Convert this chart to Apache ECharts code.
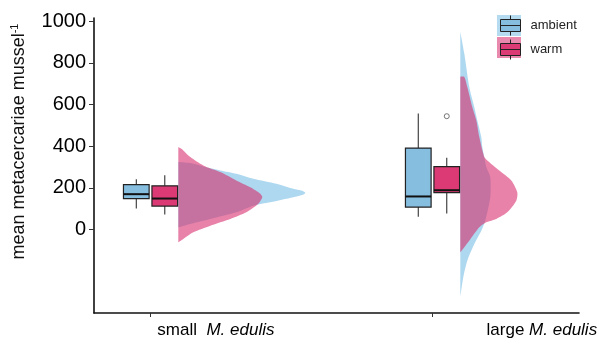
<!DOCTYPE html>
<html><head><meta charset="utf-8">
<script src="https://cdn.jsdelivr.net/npm/echarts@6/dist/echarts.min.js"></script>
<style>html,body{margin:0;padding:0;background:#fff}#c{width:612px;height:345px}</style>
</head><body><div id="c"></div>
<script>
// ---- data ----
const groupNames = ['small', 'large'];
const groupPos = [1, 2];
const treatments = ['ambient', 'warm'];
const yTickValues = [0, 200, 400, 600, 800, 1000];
const yAxisTitle = 'mean metacercariae mussel';
// box statistics per group: [min, Q1, median, Q3, max]
const ambientBox = [[101, 149, 170, 216, 242], [62, 108, 159, 391, 557]];
const warmBox = [[72, 113, 149, 210, 261], [77, 177, 189, 302, 345]];
// outliers: [group index, value]
const warmOutliers = [[1, 544]];
// half-violin density profiles: [value, relative density]
const smallAmbientDensity = [[324,0],[319,12],[303,25],[284,42],[268,58],[244,75],[220,98],[196,115],[186,124],[176,127],[166,124],[155,115],[131,92],[115,75],[83,58],[51,32],[27,12],[11,0]];
const largeAmbientDensity = [[949,0],[845,4],[684,9],[588,14],[524,17],[444,21],[396,22],[348,24],[300,26],[251,30],[155,30],[43,25],[-5,21],[-69,14],[-149,7],[-229,3],[-325,0]];
const smallWarmDensity = [[396,0],[388,3],[380,5],[348,12],[308,25],[276,42],[236,58],[203,72],[172,82],[155,84],[124,80],[83,68],[51,52],[19,32],[-13,15],[-45,5],[-61,0]];
const largeWarmDensity = [[733,0],[732,4],[684,7],[588,12],[524,16],[444,19],[348,24],[332,27],[284,39],[236,51],[179,57],[139,56],[83,47],[51,36],[35,26],[11,19],[-53,9],[-109,0]];

// ---- styling / layout ----
const AMB_OFF = -0.05, WARM_OFF = 0.051, VIOLIN_OFF = 0.099, BOX_HALF = 0.0455;
const DENSITY_SCALE = 1 / 282;
const boxColors = ['#86BEE0', '#DC3A74'];
const violinColors = ['rgba(120,190,228,0.6)', 'rgba(215,40,105,0.58)'];
const keyBg = ['rgba(120,190,228,0.55)', 'rgba(215,40,105,0.55)'];
const legendTextPad = [[4, 0, 0, 5], [8, 0, 0, 5]];
const FONT = 'Liberation Sans, Arial, sans-serif';

function boxRender(color) {
  return function (params, api) {
    const x = api.value(0);
    const pMin = api.coord([x, api.value(1)]);
    const pQ1 = api.coord([x, api.value(2)]);
    const pMed = api.coord([x, api.value(3)]);
    const pQ3 = api.coord([x, api.value(4)]);
    const pMax = api.coord([x, api.value(5)]);
    const hw = api.size([BOX_HALF, 0])[0];
    const cx = pMed[0];
    return {
      type: 'group', children: [
        { type: 'line', shape: { x1: cx, y1: pMax[1], x2: cx, y2: pQ3[1] }, style: { stroke: '#333', lineWidth: 1.1 } },
        { type: 'line', shape: { x1: cx, y1: pQ1[1], x2: cx, y2: pMin[1] }, style: { stroke: '#333', lineWidth: 1.1 } },
        { type: 'rect', shape: { x: cx - hw, y: pQ3[1], width: 2 * hw, height: pQ1[1] - pQ3[1] }, style: { fill: color, stroke: '#222', lineWidth: 1.2 } },
        { type: 'line', shape: { x1: cx - hw, y1: pMed[1], x2: cx + hw, y2: pMed[1] }, style: { stroke: '#111', lineWidth: 2 } }
      ]
    };
  };
}
function violinRender(profiles, color) {
  return function (params, api) {
    const xb = api.value(0);
    const prof = profiles[api.value(1)];
    const pts = prof.map(p => api.coord([xb + p[1] * DENSITY_SCALE, p[0]]));
    // open smoothed outline; the fill closes it straight along the baseline
    return { type: 'polyline', shape: { points: pts, smooth: 0.25 }, style: { fill: color, stroke: 'none' } };
  };
}
const boxData = (stats, off) => stats.map((s, i) => [groupPos[i] + off].concat(s));
const violinData = groupPos.map((g, i) => [g + VIOLIN_OFF, i]);
const GLYPH = 'path://M0,4L20,4L20,16L0,16Z M0,10L20,10 M10,0L10,4 M10,16L10,20';

const chart = echarts.init(document.getElementById('c'), null, { renderer: 'canvas' });
chart.setOption({
  animation: false,
  backgroundColor: '#fff',
  grid: { left: 94, top: 18, width: 485, height: 295 },
  xAxis: {
    type: 'value', min: 0.8, max: 2.52,
    splitLine: { show: false },
    axisLine: { show: true, onZero: false, lineStyle: { color: '#111', width: 1.6 } },
    axisTick: { show: true, customValues: groupPos, length: 4, lineStyle: { color: '#333' } },
    axisLabel: {
      customValues: groupPos, margin: 9, align: 'center', color: '#000', fontFamily: FONT, fontSize: 17,
      formatter: v => v === 1 ? '{s|' + groupNames[0] + '  }{i|M. edulis}' : '{l|' + groupNames[1] + ' }{i|M. edulis}',
      rich: {
        s: { padding: [0, 0, 0, 131], fontSize: 17, fontFamily: FONT, color: '#000' },
        l: { padding: [0, 0, 0, 219], fontSize: 17, fontFamily: FONT, color: '#000' },
        i: { fontStyle: 'italic', fontSize: 17, fontFamily: FONT, color: '#000' }
      }
    }
  },
  yAxis: {
    type: 'value', min: -400, max: 1015,
    splitLine: { show: false },
    axisLine: { show: true, onZero: false, lineStyle: { color: '#111', width: 1.6 } },
    axisTick: { show: true, customValues: yTickValues, length: 5, lineStyle: { color: '#333' } },
    axisLabel: { customValues: yTickValues, margin: 8, color: '#000', fontFamily: FONT, fontSize: 20, formatter: v => String(v) }
  },
  legend: {
    orient: 'vertical', left: 500, top: 15, padding: 0, itemWidth: 20, itemHeight: 20, itemGap: 3,
    selectedMode: false,
    textStyle: { fontSize: 13, color: '#222', fontFamily: FONT, padding: [0, 0, 0, 5] },
    data: treatments.map((t, i) => ({
      name: t, icon: GLYPH,
      itemStyle: { color: boxColors[i], borderColor: '#222', borderWidth: 1 },
      textStyle: { fontSize: 13, color: '#222', fontFamily: FONT, padding: legendTextPad[i] }
    }))
  },
  graphic: [
    { type: 'rect', left: 497, top: 15, shape: { width: 24, height: 21 }, style: { fill: keyBg[0] }, z: 0 },
    { type: 'rect', left: 497, top: 37, shape: { width: 24, height: 21 }, style: { fill: keyBg[1] }, z: 0 },
    {
      type: 'text', x: 19, y: 141.5, rotation: Math.PI / 2,
      style: {
        text: '{a|' + yAxisTitle + '}{s|-1}', align: 'center', verticalAlign: 'middle',
        rich: {
          a: { fontSize: 18, fontFamily: FONT, fill: '#111', lineHeight: 20 },
          s: { fontSize: 11, fontFamily: FONT, fill: '#111', verticalAlign: 'top', lineHeight: 20 }
        }
      }
    }
  ],
  series: [
    { name: 'ambient', type: 'custom', renderItem: violinRender([smallAmbientDensity, largeAmbientDensity], violinColors[0]), data: violinData, z: 2 },
    { name: 'warm', type: 'custom', renderItem: violinRender([smallWarmDensity, largeWarmDensity], violinColors[1]), data: violinData, z: 2 },
    { name: 'ambient', type: 'custom', renderItem: boxRender(boxColors[0]), data: boxData(ambientBox, AMB_OFF), z: 3 },
    { name: 'warm', type: 'custom', renderItem: boxRender(boxColors[1]), data: boxData(warmBox, WARM_OFF), z: 3 },
    {
      name: 'warm', type: 'scatter', symbol: 'circle', symbolSize: 5, z: 3,
      itemStyle: { color: '#fff', borderColor: '#555', borderWidth: 1 },
      data: warmOutliers.map(o => [groupPos[o[0]] + WARM_OFF, o[1]])
    }
  ]
});
</script></body></html>
